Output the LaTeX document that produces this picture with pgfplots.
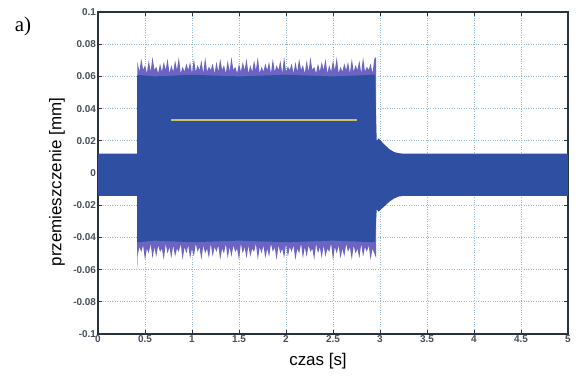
\documentclass[border=0pt]{standalone}
\usepackage{fontspec}
\setmainfont{Liberation Sans}
\newfontfamily\timesfont{Liberation Serif}
\usepackage{pgfplots}
\pgfplotsset{compat=1.18}
\usepackage{pgfplotstable}
\definecolor{sigblue}{RGB}{47,79,163}
\definecolor{fringe}{RGB}{108,100,195}
\definecolor{gridc}{RGB}{150,185,210}
\definecolor{axc}{RGB}{40,50,60}
\definecolor{tickc}{RGB}{70,78,90}
\definecolor{yel}{RGB}{212,190,100}
\newcommand{\tickfont}{\fontsize{10}{11}\selectfont\bfseries}

% outer (fringe) envelope: upper edge forward, lower edge backward
\pgfplotstableread{
x y
0.42 0.069
0.44 0.063
0.46 0.071
0.48 0.064
0.50 0.067
0.52 0.062
0.54 0.070
0.56 0.063
0.58 0.072
0.60 0.064
0.62 0.066
0.64 0.062
0.66 0.068
0.68 0.063
0.70 0.069
0.72 0.064
0.74 0.071
0.76 0.062
0.78 0.067
0.80 0.063
0.82 0.070
0.84 0.064
0.86 0.072
0.88 0.062
0.90 0.066
0.92 0.063
0.94 0.068
0.96 0.064
0.98 0.069
1.00 0.062
1.02 0.071
1.04 0.063
1.06 0.067
1.08 0.064
1.10 0.070
1.12 0.062
1.14 0.072
1.16 0.063
1.18 0.066
1.20 0.064
1.22 0.068
1.24 0.062
1.26 0.069
1.28 0.063
1.30 0.071
1.32 0.064
1.34 0.067
1.36 0.062
1.38 0.070
1.40 0.063
1.42 0.072
1.44 0.064
1.46 0.066
1.48 0.062
1.50 0.068
1.52 0.063
1.54 0.069
1.56 0.064
1.58 0.071
1.60 0.062
1.62 0.067
1.64 0.063
1.66 0.070
1.68 0.064
1.70 0.072
1.72 0.062
1.74 0.066
1.76 0.063
1.78 0.068
1.80 0.064
1.82 0.069
1.84 0.062
1.86 0.071
1.88 0.063
1.90 0.067
1.92 0.064
1.94 0.070
1.96 0.062
1.98 0.072
2.00 0.063
2.02 0.066
2.04 0.064
2.06 0.068
2.08 0.062
2.10 0.069
2.12 0.063
2.14 0.071
2.16 0.064
2.18 0.067
2.20 0.062
2.22 0.070
2.24 0.063
2.26 0.072
2.28 0.064
2.30 0.066
2.32 0.062
2.34 0.068
2.36 0.063
2.38 0.069
2.40 0.064
2.42 0.071
2.44 0.062
2.46 0.067
2.48 0.063
2.50 0.070
2.52 0.064
2.54 0.072
2.56 0.062
2.58 0.066
2.60 0.063
2.62 0.068
2.64 0.064
2.66 0.069
2.68 0.062
2.70 0.071
2.72 0.063
2.74 0.067
2.76 0.064
2.78 0.070
2.80 0.062
2.82 0.072
2.84 0.063
2.86 0.066
2.88 0.064
2.90 0.068
2.92 0.062
2.94 0.071
2.96 0.072
2.96 -0.053
2.94 -0.050
2.92 -0.047
2.90 -0.054
2.88 -0.045
2.86 -0.049
2.84 -0.046
2.82 -0.052
2.80 -0.044
2.78 -0.053
2.76 -0.047
2.74 -0.050
2.72 -0.045
2.70 -0.054
2.68 -0.046
2.66 -0.049
2.64 -0.044
2.62 -0.052
2.60 -0.047
2.58 -0.053
2.56 -0.045
2.54 -0.050
2.52 -0.046
2.50 -0.054
2.48 -0.044
2.46 -0.049
2.44 -0.047
2.42 -0.052
2.40 -0.045
2.38 -0.053
2.36 -0.046
2.34 -0.050
2.32 -0.044
2.30 -0.054
2.28 -0.047
2.26 -0.049
2.24 -0.045
2.22 -0.052
2.20 -0.046
2.18 -0.053
2.16 -0.044
2.14 -0.050
2.12 -0.047
2.10 -0.054
2.08 -0.045
2.06 -0.049
2.04 -0.046
2.02 -0.052
2.00 -0.044
1.98 -0.053
1.96 -0.047
1.94 -0.050
1.92 -0.045
1.90 -0.054
1.88 -0.046
1.86 -0.049
1.84 -0.044
1.82 -0.052
1.80 -0.047
1.78 -0.053
1.76 -0.045
1.74 -0.050
1.72 -0.046
1.70 -0.054
1.68 -0.044
1.66 -0.049
1.64 -0.047
1.62 -0.052
1.60 -0.045
1.58 -0.053
1.56 -0.046
1.54 -0.050
1.52 -0.044
1.50 -0.054
1.48 -0.047
1.46 -0.049
1.44 -0.045
1.42 -0.052
1.40 -0.046
1.38 -0.053
1.36 -0.044
1.34 -0.050
1.32 -0.047
1.30 -0.054
1.28 -0.045
1.26 -0.049
1.24 -0.046
1.22 -0.052
1.20 -0.044
1.18 -0.053
1.16 -0.047
1.14 -0.050
1.12 -0.045
1.10 -0.054
1.08 -0.046
1.06 -0.049
1.04 -0.044
1.02 -0.052
1.00 -0.047
0.98 -0.053
0.96 -0.045
0.94 -0.050
0.92 -0.046
0.90 -0.054
0.88 -0.044
0.86 -0.049
0.84 -0.047
0.82 -0.052
0.80 -0.045
0.78 -0.053
0.76 -0.046
0.74 -0.050
0.72 -0.044
0.70 -0.054
0.68 -0.047
0.66 -0.049
0.64 -0.045
0.62 -0.052
0.60 -0.046
0.58 -0.053
0.56 -0.044
0.54 -0.050
0.52 -0.047
0.50 -0.054
0.48 -0.045
0.46 -0.049
0.44 -0.046
0.42 -0.052
}\outerpoly

% inner (solid) envelope: upper edge forward, lower edge backward
\pgfplotstableread{
x y
0.000 0.0120
0.415 0.0120
0.417 0.060
0.422 0.061
0.600 0.060
1.000 0.061
1.500 0.060
2.000 0.061
2.500 0.060
2.945 0.061
2.965 0.020
2.985 0.0215
3.050 0.0175
3.100 0.0148
3.150 0.013
3.200 0.0123
3.250 0.0120
5.000 0.0120
5.000 -0.0142
3.250 -0.0142
3.200 -0.0146
3.150 -0.0158
3.100 -0.0178
3.050 -0.0205
2.985 -0.0240
2.965 -0.0225
2.945 -0.043
2.500 -0.042
2.000 -0.043
1.500 -0.042
1.000 -0.043
0.600 -0.042
0.422 -0.043
0.417 -0.059
0.415 -0.0142
0.000 -0.0142
}\innerpoly

\begin{document}
\begin{tikzpicture}
\useasboundingbox (0,0) rectangle (577bp,376bp);
\begin{axis}[
  at={(98bp,42bp)}, anchor=south west,
  scale only axis, width=470bp, height=322bp,
  xmin=0, xmax=5, ymin=-0.1, ymax=0.1,
  xtick={0,0.5,1,1.5,2,2.5,3,3.5,4,4.5,5},
  xticklabels={\tickfont 0,\tickfont 0.5,\tickfont 1,\tickfont 1.5,\tickfont 2,\tickfont 2.5,\tickfont 3,\tickfont 3.5,\tickfont 4,\tickfont 4.5,\tickfont 5},
  ytick={-0.1,-0.08,-0.06,-0.04,-0.02,0,0.02,0.04,0.06,0.08,0.1},
  yticklabels={\tickfont -0.1,\tickfont -0.08,\tickfont -0.06,\tickfont -0.04,\tickfont -0.02,\tickfont 0,\tickfont 0.02,\tickfont 0.04,\tickfont 0.06,\tickfont 0.08,\tickfont 0.1},
  grid=major,
  major grid style={gridc, dotted, line width=0.7bp},
  tick align=inside, major tick length=4bp,
  axis line style={axc, line width=1.2bp},
  tick style={axc, line width=0.8bp},
  tick label style={font=\tickfont, text=tickc},
  yticklabel style={xshift=1.5bp},
  xticklabel style={yshift=1.5bp},
]
\addplot[fill=fringe, draw=none] table[x=x, y=y]{\outerpoly};
\addplot[fill=sigblue, draw=none] table[x=x, y=y]{\innerpoly};
\addplot[yel, line width=2bp] coordinates {(0.78,0.033) (2.75,0.033)};
\end{axis}
\node[font=\fontsize{17}{20}\selectfont] at (318bp,15bp) {czas [s]};
\node[rotate=90, font=\fontsize{17}{20}\selectfont] at (57bp,194bp) {przemieszczenie [mm]};
\node[font=\timesfont\fontsize{21}{24}\selectfont] at (23bp,350bp) {a)};
\end{tikzpicture}
\end{document}
